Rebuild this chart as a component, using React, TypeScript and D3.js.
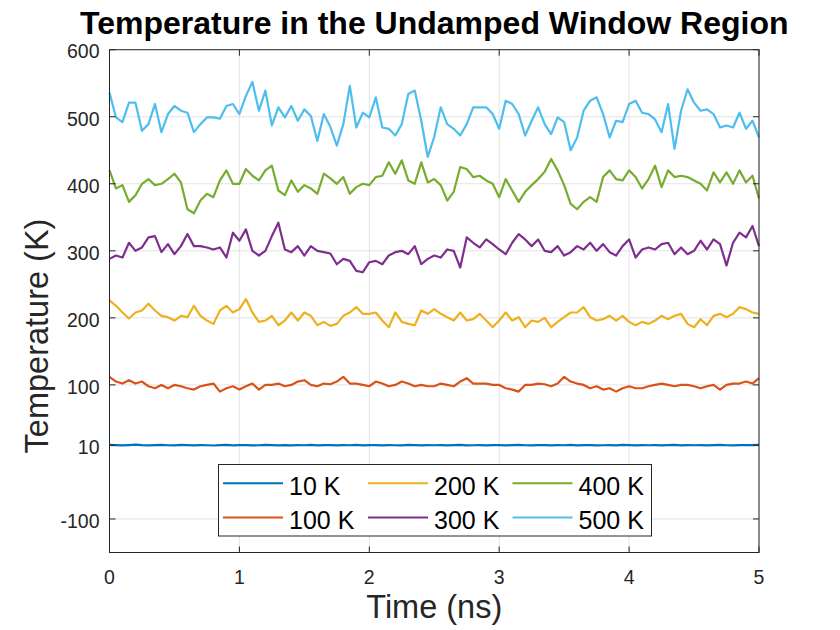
import * as d3 from 'd3'

const time = d3.range(101).map(i => +(i * 0.05).toFixed(2))

const t10 = [
  10.6, 10.2, 9.9, 10.3, 10.8, 10.1, 9.7, 10.2, 10.5, 10.0,
  9.8, 10.4, 10.1, 9.9, 10.3, 10.0, 9.6, 10.2, 10.4, 9.9,
  10.1, 10.3, 9.8, 10.0, 10.5, 10.2, 9.9, 10.1, 9.7, 10.3,
  10.0, 10.4, 9.8, 10.2, 10.1, 9.9, 10.3, 10.0, 10.5, 9.8,
  10.2, 10.1, 9.7, 10.3, 10.0, 9.9, 10.4, 10.1, 9.8, 10.2,
  10.0, 10.3, 9.9, 10.1, 10.4, 9.8, 10.0, 10.2, 9.9, 10.3,
  10.1, 9.7, 10.2, 10.4, 10.0, 9.8, 10.3, 10.1, 9.9, 10.2,
  10.0, 10.5, 9.8, 10.1, 10.3, 9.9, 10.0, 10.2, 9.7, 10.4,
  10.1, 9.9, 10.3, 10.0, 10.2, 9.8, 10.1, 10.4, 9.9, 10.2,
  10.0, 10.3, 9.8, 10.1, 10.5, 10.0, 9.9, 10.2, 10.1, 10.3,
  10.4,
]

const t100 = [
  112, 105, 102, 107, 102, 105, 98, 95, 100, 95, 100, 98, 95, 93, 98, 100, 102, 90,
  95, 98, 93, 98, 102, 93, 100, 100, 102, 98, 100, 105, 107, 100, 98, 102, 101,
  105, 112, 102, 102, 100, 98, 105, 102, 98, 100, 105, 102, 98, 100, 98, 98, 102,
  100, 98, 105, 110, 102, 102, 102, 100, 100, 95, 93, 90, 100, 100, 102, 101,
  98, 102, 112, 105, 102, 100, 95, 98, 93, 95, 90, 95, 98, 95, 95, 98, 100, 102,
  100, 98, 100, 100, 98, 95, 98, 100, 93, 100, 102, 102, 105, 102, 110,
]

const t200 = [
  226, 218, 208, 199, 208, 211, 221, 211, 203, 201, 196, 203, 201, 218, 203, 196, 191, 211,
  218, 208, 213, 228, 208, 194, 196, 203, 189, 196, 208, 196, 208, 203, 189, 194, 188,
  191, 203, 208, 216, 206, 206, 208, 196, 186, 208, 194, 191, 189, 211, 206, 213, 206,
  201, 196, 208, 196, 198, 206, 196, 186, 196, 208, 196, 201, 186, 196, 194, 200,
  186, 194, 201, 208, 208, 216, 201, 196, 198, 203, 196, 203, 194, 189, 194, 191, 196,
  203, 198, 203, 206, 191, 186, 198, 189, 203, 206, 201, 206, 216, 213, 208, 206,
]

const t300 = [
  288, 293, 290, 312, 300, 305, 320, 322, 298, 310, 295, 307, 325, 307, 307, 305, 302, 305,
  290, 327, 315, 332, 300, 293, 300, 322, 342, 302, 298, 307, 293, 307, 300, 298, 296,
  280, 288, 285, 270, 268, 283, 285, 280, 293, 298, 300, 295, 307, 280, 288, 293, 290,
  302, 300, 275, 320, 312, 305, 317, 310, 302, 295, 312, 325, 317, 307, 317, 300,
  298, 307, 293, 298, 307, 302, 312, 300, 310, 298, 293, 307, 317, 290, 302, 305, 302,
  310, 312, 295, 305, 295, 300, 315, 302, 317, 310, 278, 312, 327, 320, 337, 307,
]

const t400 = [
  420, 393, 398, 373, 383, 400, 407, 398, 400, 407, 415, 402, 362, 356, 375, 385, 380, 405,
  420, 400, 400, 422, 412, 405, 420, 427, 390, 383, 405, 388, 398, 393, 385, 415, 408,
  400, 410, 385, 395, 400, 398, 410, 412, 432, 415, 435, 405, 400, 432, 402, 407, 398,
  375, 388, 425, 422, 410, 412, 405, 400, 380, 407, 390, 373, 388, 398, 407, 418,
  437, 420, 398, 370, 362, 373, 380, 373, 410, 420, 407, 405, 420, 410, 393, 407, 427,
  395, 420, 410, 412, 410, 405, 400, 390, 417, 402, 417, 400, 420, 402, 412, 378,
]

const t500 = [
  536, 499, 492, 521, 521, 479, 489, 519, 477, 504, 516, 509, 506, 477, 489, 499, 499, 497,
  516, 519, 504, 531, 552, 509, 539, 487, 514, 499, 516, 494, 511, 501, 464, 504, 485,
  457, 489, 546, 484, 506, 499, 529, 484, 482, 472, 489, 534, 539, 494, 440, 470, 514,
  489, 482, 472, 489, 514, 514, 514, 504, 482, 524, 519, 504, 472, 494, 514, 489,
  474, 499, 492, 450, 469, 509, 524, 529, 504, 469, 494, 492, 519, 524, 506, 504, 496,
  477, 519, 452, 509, 541, 521, 509, 511, 504, 484, 487, 484, 506, 482, 494, 469,
]

const seriesValues = [t10, t100, t200, t300, t400, t500]
const seriesNames = ['10 K', '100 K', '200 K', '300 K', '400 K', '500 K']
const seriesColors = ['#0072BD', '#D95319', '#EDB120', '#7E2F8E', '#77AC30', '#4DBEEE']

const xTicks = [0, 1, 2, 3, 4, 5]
const yTicks = [-100, 10, 100, 200, 300, 400, 500, 600]

const FONT = '"Liberation Sans", Arial, Helvetica, sans-serif'
const AXIS = '#262626'
const GRID = '#e3e3e3'

export default function App() {
  const width = 840
  const height = 630
  const left = 109.5
  const right = 759
  const top = 49.7
  const bottom = 552.5

  const x = d3.scaleLinear().domain([0, 5]).range([left, right])
  const y = d3.scaleLinear().domain([-150, 600]).range([bottom, top])

  const line = d3.line<number>()
    .x((_, i) => x(time[i]))
    .y(d => y(d))

  const tickLen = 6

  // legend layout
  const legBox = { x0: 218.5, y0: 464.5, x1: 651.5, y1: 536 }
  const legCols = [223, 368, 512.5]
  const legRows = [483.3, 517.5]

  return (
    <svg width={width} height={height} style={{ position: 'absolute', left: 0, top: 0, background: '#fff' }}
      fontFamily={FONT}>
      <rect width={width} height={height} fill="#fff" />

      {/* grid */}
      {xTicks.map(t => (
        <line key={'gx' + t} x1={x(t)} x2={x(t)} y1={top} y2={bottom} stroke={GRID} strokeWidth={1} />
      ))}
      {yTicks.map(t => (
        <line key={'gy' + t} x1={left} x2={right} y1={y(t)} y2={y(t)} stroke={GRID} strokeWidth={1} />
      ))}

      {/* series */}
      {seriesValues.map((vals, i) => (
        <path key={seriesNames[i]} d={line(vals) ?? ''} fill="none" stroke={seriesColors[i]}
          strokeWidth={2.2} strokeLinejoin="round" />
      ))}

      {/* box and ticks */}
      <rect x={left} y={top} width={right - left} height={bottom - top} fill="none" stroke={AXIS} strokeWidth={1} />
      {xTicks.map(t => (
        <g key={'tx' + t}>
          <line x1={x(t)} x2={x(t)} y1={bottom} y2={bottom - tickLen} stroke={AXIS} />
          <line x1={x(t)} x2={x(t)} y1={top} y2={top + tickLen} stroke={AXIS} />
          <text x={x(t)} y={bottom + 31} textAnchor="middle" fontSize={19.5} fill={AXIS}>{t}</text>
        </g>
      ))}
      {yTicks.map(t => (
        <g key={'ty' + t}>
          <line x1={left} x2={left + tickLen} y1={y(t)} y2={y(t)} stroke={AXIS} />
          <line x1={right} x2={right - tickLen} y1={y(t)} y2={y(t)} stroke={AXIS} />
          <text x={left - 10} y={y(t)} dy="0.45em" textAnchor="end" fontSize={19.5} fill={AXIS}>{t}</text>
        </g>
      ))}

      {/* legend */}
      <rect x={legBox.x0} y={legBox.y0} width={legBox.x1 - legBox.x0} height={legBox.y1 - legBox.y0}
        fill="#fff" stroke={AXIS} strokeWidth={1} />
      {seriesNames.map((name, i) => {
        const cx = legCols[Math.floor(i / 2)]
        const cy = legRows[i % 2]
        return (
          <g key={'leg' + name}>
            <line x1={cx} x2={cx + 60} y1={cy} y2={cy} stroke={seriesColors[i]} strokeWidth={2} />
            <text x={cx + 66} y={cy + 11.5} fontSize={25} fill="#000">{name}</text>
          </g>
        )
      })}

      {/* labels */}
      <text x={(left + right) / 2} y={33.5} textAnchor="middle" fontSize={32} fontWeight="bold" fill="#000">
        Temperature in the Undamped Window Region
      </text>
      <text x={(left + right) / 2} y={618} textAnchor="middle" fontSize={32.5} fill={AXIS}>Time (ns)</text>
      <text transform="translate(48, 336) rotate(-90)" textAnchor="middle" fontSize={32.5}
        fill={AXIS}>Temperature (K)</text>
    </svg>
  )
}
